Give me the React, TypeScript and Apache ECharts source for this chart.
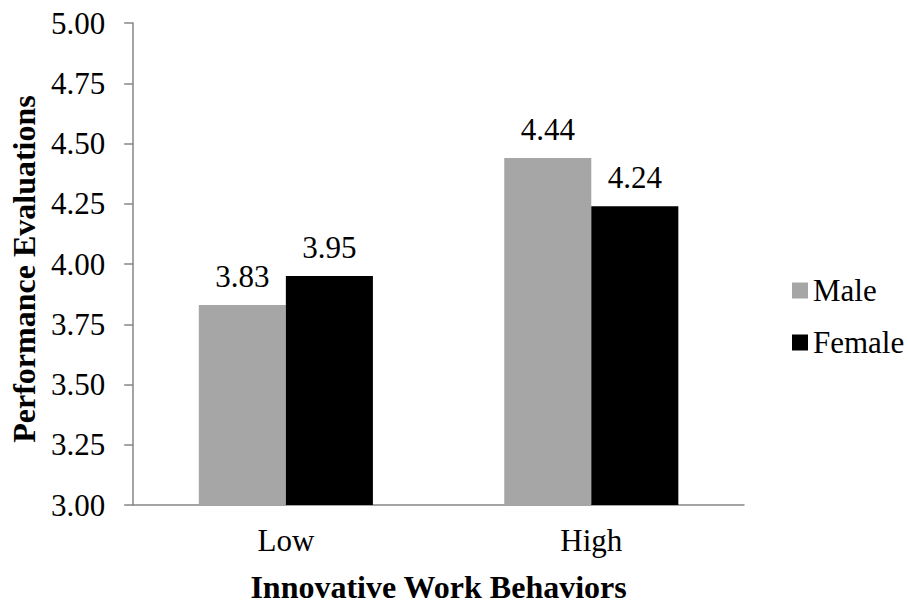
import React, { useEffect, useRef } from "react";
import * as echarts from "echarts";

const categories = ["Low", "High"];
const maleValues = [3.83, 4.44];
const femaleValues = [3.95, 4.24];
const seriesNames = ["Male", "Female"];
const yTicks = { min: 3, max: 5, interval: 0.25 };
const xTitle = "Innovative Work Behaviors";
const yTitle = "Performance Evaluations";

const FONT = "Liberation Serif";
const AXIS_COLOR = "#868686";

export default function App() {
  const ref = useRef<HTMLDivElement>(null);
  useEffect(() => {
    if (!ref.current) return;
    const chart = echarts.init(ref.current, null, { renderer: "svg" });
    const labelStyle = {
      show: true,
      position: "top",
      distance: 13,
      fontFamily: FONT,
      fontSize: 31,
      color: "#000",
      formatter: (p: any) => Number(p.value).toFixed(2),
    };
    chart.setOption({
      animation: false,
      backgroundColor: "#fff",
      textStyle: { fontFamily: FONT },
      grid: { left: 133, right: 164, top: 23, bottom: 101, containLabel: false },
      legend: {
        orient: "vertical",
        left: 787,
        top: 270,
        itemWidth: 16,
        itemHeight: 16,
        itemGap: 21,
        icon: "rect",
        textStyle: { fontFamily: FONT, fontSize: 31, color: "#000" },
        data: seriesNames,
      },
      xAxis: {
        type: "category",
        data: categories,
        name: xTitle,
        nameLocation: "middle",
        nameGap: 66,
        nameTextStyle: { fontFamily: FONT, fontSize: 32, fontWeight: "bold", color: "#000" },
        axisLine: { show: true, lineStyle: { color: AXIS_COLOR, width: 1.5 } },
        axisTick: { show: false },
        axisLabel: { fontFamily: FONT, fontSize: 31, color: "#000", margin: 20 },
        splitLine: { show: false },
      },
      yAxis: {
        type: "value",
        min: yTicks.min,
        max: yTicks.max,
        interval: yTicks.interval,
        name: yTitle,
        nameLocation: "middle",
        nameGap: 93,
        nameRotate: 90,
        nameTextStyle: {
          fontFamily: FONT,
          fontSize: 32,
          fontWeight: "bold",
          color: "#000",
          padding: [0, 10, 0, 0],
        },
        axisLine: { show: true, lineStyle: { color: AXIS_COLOR, width: 1.5 } },
        axisTick: { show: true, length: 9, lineStyle: { color: AXIS_COLOR, width: 1.5 } },
        axisLabel: {
          fontFamily: FONT,
          fontSize: 31,
          color: "#000",
          margin: 28,
          formatter: (v: number) => v.toFixed(2),
        },
        splitLine: { show: false },
      },
      series: [
        {
          name: seriesNames[0],
          type: "bar",
          data: maleValues,
          barGap: "0%",
          barCategoryGap: "43%",
          itemStyle: { color: "#a6a6a6" },
          label: labelStyle,
        },
        {
          name: seriesNames[1],
          type: "bar",
          data: femaleValues,
          barGap: "0%",
          barCategoryGap: "43%",
          itemStyle: { color: "#000000" },
          label: labelStyle,
        },
      ],
    });
    return () => chart.dispose();
  }, []);
  return (
    <div
      ref={ref}
      style={{ position: "fixed", left: 0, top: 0, width: 908, height: 608 }}
    />
  );
}
